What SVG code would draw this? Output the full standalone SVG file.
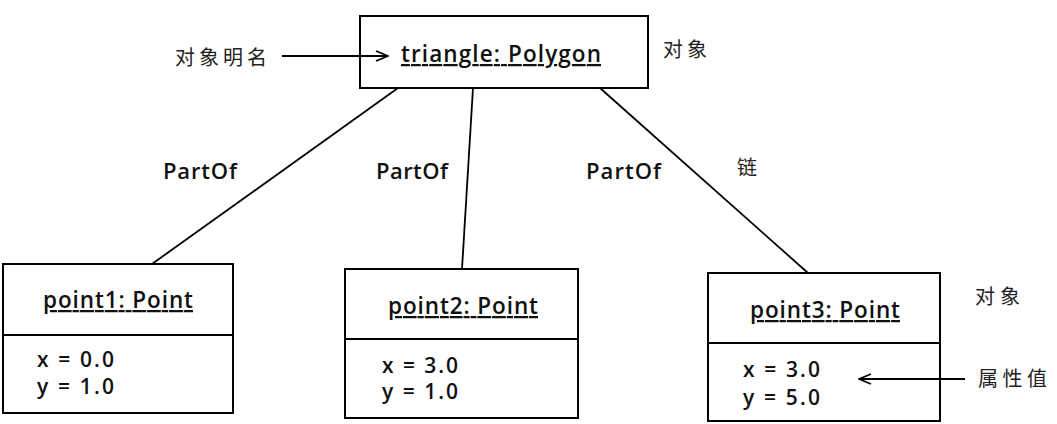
<svg xmlns="http://www.w3.org/2000/svg" width="1057" height="424" viewBox="0 0 1057 424">
<style>
.box{fill:#fff;stroke:#000;stroke-width:2}
.t{font-family:"Open Sans","Liberation Sans",sans-serif;font-size:22.5px;font-weight:600;fill:#111}
.a{font-family:"Open Sans","Liberation Sans",sans-serif;font-size:21px;font-weight:600;fill:#111}
.p{font-family:"Open Sans","Liberation Sans",sans-serif;font-size:22px;font-weight:600;fill:#111}
.u{text-decoration:underline}
.c{font-family:"Noto Sans CJK SC",sans-serif;font-size:20px;fill:#222}
.l{stroke:#000;stroke-width:1.8;fill:none}
</style>
<defs>
<marker id="ah" viewBox="0 0 14 12" refX="13" refY="6" markerWidth="14" markerHeight="12" markerUnits="userSpaceOnUse" orient="auto">
<path d="M1,1 L13,6 L1,11" fill="none" stroke="#000" stroke-width="1.8"/>
</marker>
</defs>
<g id="triangle">
<rect class="box" x="360" y="16" width="288" height="72"/>
<text class="t u" x="401" y="62" textLength="200" lengthAdjust="spacing">triangle: Polygon</text>
</g>
<g id="point1">
<rect class="box" x="3" y="264" width="230" height="149"/>
<line class="l" x1="3" y1="335" x2="233" y2="335"/>
<text class="t u" x="43" y="308" textLength="150" lengthAdjust="spacing">point1: Point</text>
<text class="a" x="37" y="367" textLength="77" lengthAdjust="spacing">x = 0.0</text>
<text class="a" x="37" y="394" textLength="77" lengthAdjust="spacing">y = 1.0</text>
</g>
<g id="point2">
<rect class="box" x="345" y="269" width="233" height="149"/>
<line class="l" x1="345" y1="339" x2="578" y2="339"/>
<text class="t u" x="388" y="314" textLength="150" lengthAdjust="spacing">point2: Point</text>
<text class="a" x="382" y="373" textLength="76" lengthAdjust="spacing">x = 3.0</text>
<text class="a" x="382" y="399" textLength="76" lengthAdjust="spacing">y = 1.0</text>
</g>
<g id="point3">
<rect class="box" x="708" y="273" width="232" height="148"/>
<line class="l" x1="708" y1="343" x2="940" y2="343"/>
<text class="t u" x="750" y="318" textLength="150" lengthAdjust="spacing">point3: Point</text>
<text class="a" x="743" y="377" textLength="77" lengthAdjust="spacing">x = 3.0</text>
<text class="a" x="743" y="405" textLength="77" lengthAdjust="spacing">y = 5.0</text>
</g>
<g id="labels">
<text class="c" x="175" y="65" textLength="92" lengthAdjust="spacing">对象明名</text>
<text class="c" x="663" y="57" textLength="44" lengthAdjust="spacing">对象</text>
<text class="p" x="163" y="179" textLength="74" lengthAdjust="spacing">PartOf</text>
<text class="p" x="376" y="179" textLength="72" lengthAdjust="spacing">PartOf</text>
<text class="p" x="586" y="179" textLength="75" lengthAdjust="spacing">PartOf</text>
<text class="c" x="737" y="175">链</text>
<text class="c" x="975" y="304" textLength="45" lengthAdjust="spacing">对象</text>
<text class="c" x="978" y="386" textLength="69" lengthAdjust="spacing">属性值</text>
</g>
<g id="connectors">
<line class="l" x1="398" y1="88" x2="152" y2="264"/>
<line class="l" x1="473" y1="88" x2="462" y2="269"/>
<line class="l" x1="600" y1="88" x2="808" y2="273"/>
<line class="l" x1="282" y1="56" x2="388" y2="56" marker-end="url(#ah)"/>
<line class="l" x1="965" y1="379" x2="859" y2="379" marker-end="url(#ah)"/>
</g>
</svg>
